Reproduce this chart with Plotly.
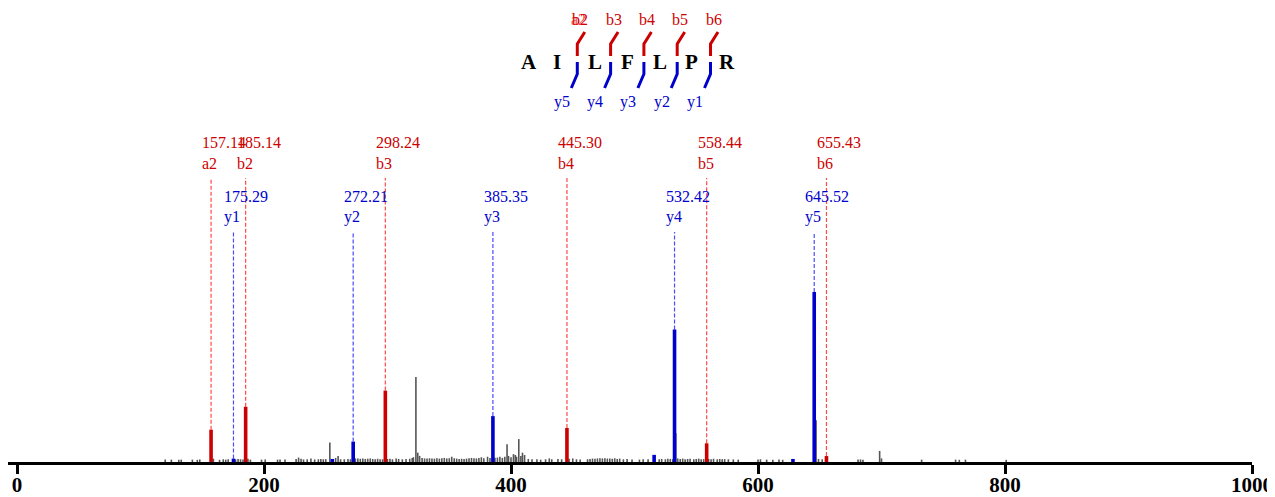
import plotly.graph_objects as go

# ---------------- data ----------------
sequence = ["A", "I", "L", "F", "L", "P", "R"]
seq_b_labels = ["b2", "b3", "b4", "b5", "b6"]
seq_a_labels = ["a2"]
seq_y_labels = ["y5", "y4", "y3", "y2", "y1"]

b_names = ["a2", "b2", "b3", "b4", "b5", "b6"]
b_mz = [157.14, 185.14, 298.24, 445.30, 558.44, 655.43]
b_int = [19, 32.5, 42, 20, 11, 3.5]

y_names = ["y1", "y2", "y3", "y4", "y5"]
y_mz = [175.29, 272.21, 385.35, 532.42, 645.52]
y_int = [2, 12, 27, 78, 100]

extra_blue_mz = [255.3, 515.9, 628.3]
extra_blue_int = [1.8, 4.2, 1.8]

noise_peaks = [
    (120, 1.4), (125, 1.4), (131, 1.3), (133, 1.4), (142, 1.4), (146, 1.3), (148, 1.5), (159, 2.0),
    (164, 1.3), (167, 1.6), (169, 1.4), (171, 1.6), (177, 1.5), (179, 1.8), (181, 1.6), (183, 1.5),
    (187, 1.9), (189, 1.4), (198, 1.4), (201, 1.5), (211, 1.4), (213, 1.5), (217, 1.4), (226, 1.7),
    (228, 2.6), (230, 1.9), (232, 1.5), (235, 1.6), (238, 2.1), (241, 1.5), (244, 1.6), (246, 1.8),
    (248, 1.6), (250, 1.7), (253.3, 11.5), (256, 1.6), (258, 2.4), (260, 3.6), (262, 1.6), (265, 1.6),
    (268, 1.8), (270, 1.6), (274, 2.1), (276, 2.0), (278, 1.9), (280, 2.1), (282, 1.8), (284, 1.9),
    (286, 2.1), (288, 1.8), (290, 1.6), (292, 1.9), (294, 1.6), (296, 1.6), (300, 1.8), (302, 1.9),
    (304, 1.6), (307, 2.0), (309, 1.8), (312, 1.6), (315, 1.7), (318, 1.9), (320, 2.4), (321, 2.8),
    (323, 50), (324.5, 5.5), (326, 3.6), (328, 2.4), (330, 2.1), (332, 2.0), (334, 2.2), (336, 2.1),
    (338, 2.0), (340, 2.2), (342, 2.0), (344, 2.2), (346, 2.4), (348, 2.1), (350, 2.2), (352, 3.1),
    (354, 2.2), (356, 2.0), (358, 1.8), (360, 1.9), (362, 1.8), (364, 2.0), (366, 2.2), (368, 2.4),
    (370, 2.2), (372, 2.1), (374, 2.3), (376, 2.8), (378, 2.2), (381, 3.1), (383, 2.4), (387, 2.5),
    (389, 2.6), (391, 3.1), (393, 2.4), (395, 3.1), (396.8, 10.5), (398, 3.6), (400, 2.8), (402, 4.6),
    (403.5, 4.1), (404.5, 3.1), (406.3, 13.5), (408, 3.6), (409.3, 5.5), (411, 4.1), (414, 1.8), (417, 1.6),
    (421, 1.6), (424, 1.4), (428, 1.6), (431, 2.1), (433, 1.6), (438, 1.8), (441, 1.6), (447, 1.9),
    (450, 2.1), (453, 1.6), (456, 1.4), (462, 1.6), (464, 1.8), (466, 2.0), (468, 1.9), (470, 2.1),
    (472, 2.2), (474, 2.1), (476, 2.2), (478, 2.0), (480, 2.1), (482, 1.9), (484, 2.2), (486, 1.8),
    (488, 2.0), (491, 1.6), (494, 1.8), (498, 1.4), (504, 1.4), (507, 1.6), (511, 1.6), (520, 1.6),
    (522, 1.8), (525, 1.6), (527, 1.9), (529, 1.8), (531, 1.6), (533.4, 17), (535, 2.1), (537, 1.8),
    (539, 2.0), (541, 1.6), (543, 1.8), (545, 1.9), (548, 1.6), (550, 1.8), (552, 2.0), (554, 1.6),
    (556, 1.7), (560, 1.8), (562, 1.6), (564, 1.9), (567, 1.6), (569, 1.8), (571, 1.6), (573, 1.7),
    (576, 1.6), (580, 1.5), (584, 1.4), (600, 1.4), (602, 1.6), (607, 1.4), (612, 1.3), (617, 1.4),
    (620, 1.3), (647, 24.5), (649, 1.8), (652, 1.6), (681, 1.4), (683, 1.5), (685, 1.3), (698.5, 6.5),
    (700, 2.1), (732.5, 1.4), (760, 1.4), (763, 1.3), (768, 1.4), (801, 1.3),
]
noise_mz = [p[0] for p in noise_peaks]
noise_int = [p[1] for p in noise_peaks]

tick_vals = [0, 200, 400, 600, 800, 1000]

# ---------------- style / layout constants ----------------
W, H = 1275, 497
OFF = 8                              # page body margin in the browser
SCREEN_BASE_Y = 462                  # screen y of the x axis
SCREEN_X0, SCREEN_X1000 = 17, 1252   # screen x of m/z 0 and 1000
PLOT_W = SCREEN_X1000 - OFF          # plot area width in figure pixels
PLOT_H = SCREEN_BASE_Y - OFF         # plot area height in figure pixels
X_SCALE = (SCREEN_X1000 - SCREEN_X0) / 1000.0
X_MIN = -(SCREEN_X0 - OFF) / X_SCALE
PX_PER_UNIT = 1.70
Y_MAX = PLOT_H / PX_PER_UNIT
RED, BLUE = "#cc0000", "#0000cc"
RED_D, BLUE_D = "#ff4a4a", "#4a4aff"
GRAY = "#555555"
SERIF = "Liberation Serif"


def py_to_data(sy):
    return (SCREEN_BASE_Y - sy) / PX_PER_UNIT


RED_DASH_TOP = py_to_data(178)
BLUE_DASH_TOP = py_to_data(232)
RED_MASS_Y, RED_NAME_Y = py_to_data(142), py_to_data(163)
BLUE_MASS_Y, BLUE_NAME_Y = py_to_data(196), py_to_data(217)


def sticks(xs, ys, base=None):
    X, Y = [], []
    for i, (x, y) in enumerate(zip(xs, ys)):
        b = 0 if base is None else base[i]
        X += [x, x, None]
        Y += [b, y, None]
    return X, Y


fig = go.Figure()

X, Y = sticks(noise_mz, noise_int)
fig.add_trace(go.Scatter(x=X, y=Y, mode="lines", line=dict(color=GRAY, width=1.6),
                         hoverinfo="skip", showlegend=False))
X, Y = sticks(extra_blue_mz, extra_blue_int)
fig.add_trace(go.Scatter(x=X, y=Y, mode="lines", line=dict(color=BLUE, width=3.6),
                         hoverinfo="skip", showlegend=False))
X, Y = sticks(b_mz, [RED_DASH_TOP] * len(b_mz), base=b_int)
fig.add_trace(go.Scatter(x=X, y=Y, mode="lines", line=dict(color=RED_D, width=1.2, dash="4px,2px"),
                         hoverinfo="skip", showlegend=False))
X, Y = sticks(y_mz, [BLUE_DASH_TOP] * len(y_mz), base=y_int)
fig.add_trace(go.Scatter(x=X, y=Y, mode="lines", line=dict(color=BLUE_D, width=1.2, dash="4px,2px"),
                         hoverinfo="skip", showlegend=False))
X, Y = sticks(b_mz, b_int)
fig.add_trace(go.Scatter(x=X, y=Y, mode="lines", line=dict(color=RED, width=3.6),
                         hoverinfo="skip", showlegend=False))
X, Y = sticks(y_mz, y_int)
fig.add_trace(go.Scatter(x=X, y=Y, mode="lines", line=dict(color=BLUE, width=3.6),
                         hoverinfo="skip", showlegend=False))

annotations = []
for name, mz in zip(b_names, b_mz):
    for txt, yy in ((f"{mz:.2f}", RED_MASS_Y), (name, RED_NAME_Y)):
        annotations.append(dict(x=mz, y=yy, xref="x", yref="y", text=txt, showarrow=False,
                                xanchor="left", yanchor="middle", xshift=-11,
                                font=dict(family=SERIF, size=16, color=RED)))
for name, mz in zip(y_names, y_mz):
    for txt, yy in ((f"{mz:.2f}", BLUE_MASS_Y), (name, BLUE_NAME_Y)):
        annotations.append(dict(x=mz, y=yy, xref="x", yref="y", text=txt, showarrow=False,
                                xanchor="left", yanchor="middle", xshift=-11,
                                font=dict(family=SERIF, size=16, color=BLUE)))


# ---------------- peptide sequence graphic ----------------
def px(sx):
    return (sx - OFF) / PLOT_W


def py(sy):
    return (SCREEN_BASE_Y - sy) / PLOT_H


letter_x = [529, 557, 595, 627, 660, 692, 727]
letter_y = 62
mark_x0, mark_dx = 577.3, 33.3

for letter, lx in zip(sequence, letter_x):
    annotations.append(dict(x=px(lx), y=py(letter_y), xref="paper", yref="paper", text=letter,
                            showarrow=False, xanchor="center", yanchor="middle",
                            font=dict(family=SERIF, size=21, color="black", weight="bold")))

shapes = []
for i in range(len(seq_b_labels)):
    mx = mark_x0 + i * mark_dx
    red_path = f"M {px(mx)} {py(56)} L {px(mx)} {py(44)} L {px(mx + 7.5)} {py(32)}"
    blue_path = f"M {px(mx)} {py(62)} L {px(mx)} {py(74)} L {px(mx - 6)} {py(88)}"
    shapes.append(dict(type="path", path=red_path, xref="paper", yref="paper",
                       line=dict(color=RED, width=3)))
    shapes.append(dict(type="path", path=blue_path, xref="paper", yref="paper",
                       line=dict(color=BLUE, width=3)))
    if i < len(seq_a_labels):
        annotations.append(dict(x=px(mx + 1), y=py(20), xref="paper", yref="paper",
                                text=seq_a_labels[i], showarrow=False, xanchor="center",
                                yanchor="middle", font=dict(family=SERIF, size=16, color=RED_D)))
    annotations.append(dict(x=px(mx + 3), y=py(20), xref="paper", yref="paper",
                            text=seq_b_labels[i], showarrow=False, xanchor="center",
                            yanchor="middle", font=dict(family=SERIF, size=16, color=RED)))
    annotations.append(dict(x=px(mx - 15.5), y=py(102), xref="paper", yref="paper",
                            text=seq_y_labels[i], showarrow=False, xanchor="center",
                            yanchor="middle", font=dict(family=SERIF, size=16, color=BLUE)))

fig.update_layout(
    width=W, height=H,
    margin=dict(l=0, r=W - PLOT_W, t=0, b=H - PLOT_H),
    paper_bgcolor="white", plot_bgcolor="white",
    showlegend=False,
    annotations=annotations,
    shapes=shapes,
    xaxis=dict(range=[X_MIN, 1000], tickvals=tick_vals, ticktext=[str(v) for v in tick_vals],
               showgrid=False, zeroline=False, showline=True, linecolor="black", linewidth=3,
               ticks="outside", ticklen=9, tickwidth=3, tickcolor="black",
               ticklabelstandoff=-7,
               tickfont=dict(family=SERIF, size=21, color="black", weight="bold")),
    yaxis=dict(range=[0, Y_MAX], visible=False, showgrid=False, zeroline=False),
)

fig.write_html("out.html")
